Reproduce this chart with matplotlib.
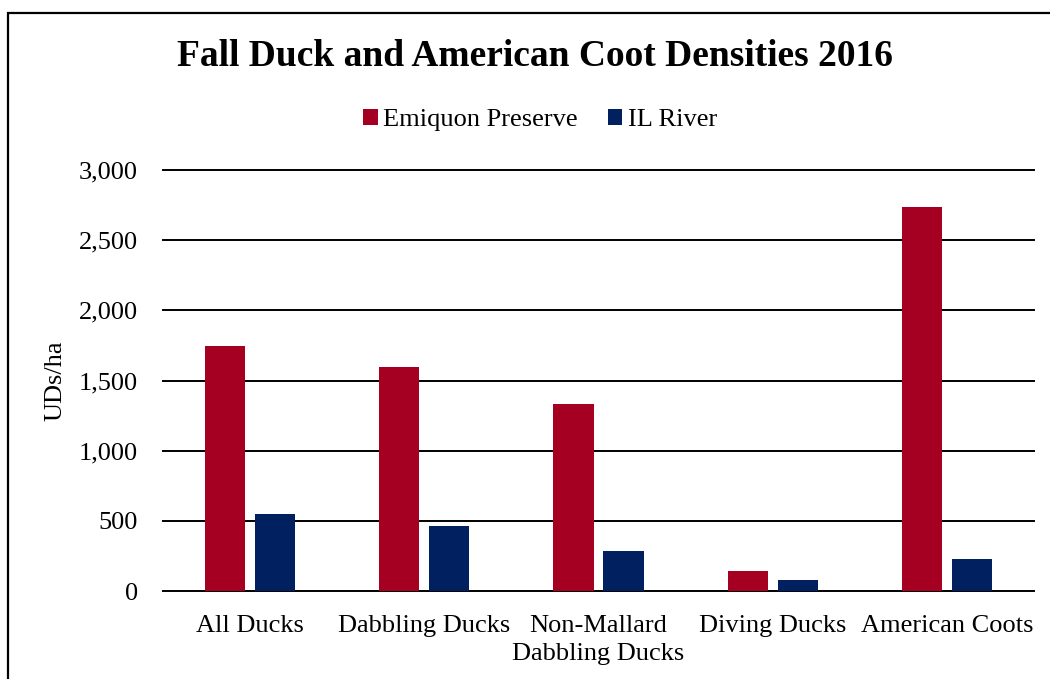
import matplotlib.pyplot as plt
import numpy as np
from matplotlib.patches import Rectangle

categories = ["All Ducks", "Dabbling Ducks", "Non-Mallard\nDabbling Ducks",
              "Diving Ducks", "American Coots"]
emiquon = [1745, 1597, 1333, 142, 2737]
il_river = [549, 463, 285, 81, 231]
series_names = ["Emiquon Preserve", "IL River"]
y_ticks = [0, 500, 1000, 1500, 2000, 2500, 3000]

RED = "#A50021"
BLUE = "#002060"

plt.rcParams["font.family"] = ["Liberation Serif", "DejaVu Serif"]

fig = plt.figure(figsize=(10.5, 6.79), dpi=100)
fig.patch.set_facecolor("white")

# outer frame, running off the right and bottom edges
fig.patches.append(Rectangle((8 / 1050, -0.05), 1.1, 1 - 13 / 679 + 0.05,
                             transform=fig.transFigure, fill=False,
                             edgecolor="black", linewidth=1.6))

ax = fig.add_axes([163 / 1050, 1 - 591 / 679, (1034 - 163) / 1050, (591 - 170) / 679])
x = np.arange(len(categories))
w = 0.23
off = 0.1435
ax.bar(x - off, emiquon, w, color=RED, label=series_names[0], zorder=3)
ax.bar(x + off, il_river, w, color=BLUE, label=series_names[1], zorder=3)

ax.set_xlim(-0.5, len(categories) - 0.5)
ax.set_ylim(0, 3000)
ax.set_yticks(y_ticks)
ax.set_yticklabels([f"{v:,}" for v in y_ticks], fontsize=19)
ax.set_xticks(x)
ax.set_xticklabels(categories, fontsize=19, linespacing=1.4)
ax.tick_params(axis="y", length=0, pad=18)
ax.tick_params(axis="x", length=0, pad=17)
ax.yaxis.grid(True, color="black", linewidth=1.4, zorder=0)
for gl in ax.get_ygridlines():
    gl.set_clip_on(False)
for s in ax.spines.values():
    s.set_visible(False)

ax.set_ylabel("UDs/ha", fontsize=19)
ax.yaxis.set_label_coords(-(163 - 66) / (1034 - 163), 0.5)

fig.text(535 / 1050, 1 - 56 / 679, "Fall Duck and American Coot Densities 2016",
         ha="center", va="center", fontsize=27, fontweight="bold")

fig.legend(loc="center", bbox_to_anchor=(540 / 1050, 1 - 120 / 679), ncol=2,
           frameon=False, fontsize=19, handlelength=0.55, handleheight=0.55,
           handletextpad=0.2, columnspacing=1.15)

fig.savefig("out.png", dpi=100)
